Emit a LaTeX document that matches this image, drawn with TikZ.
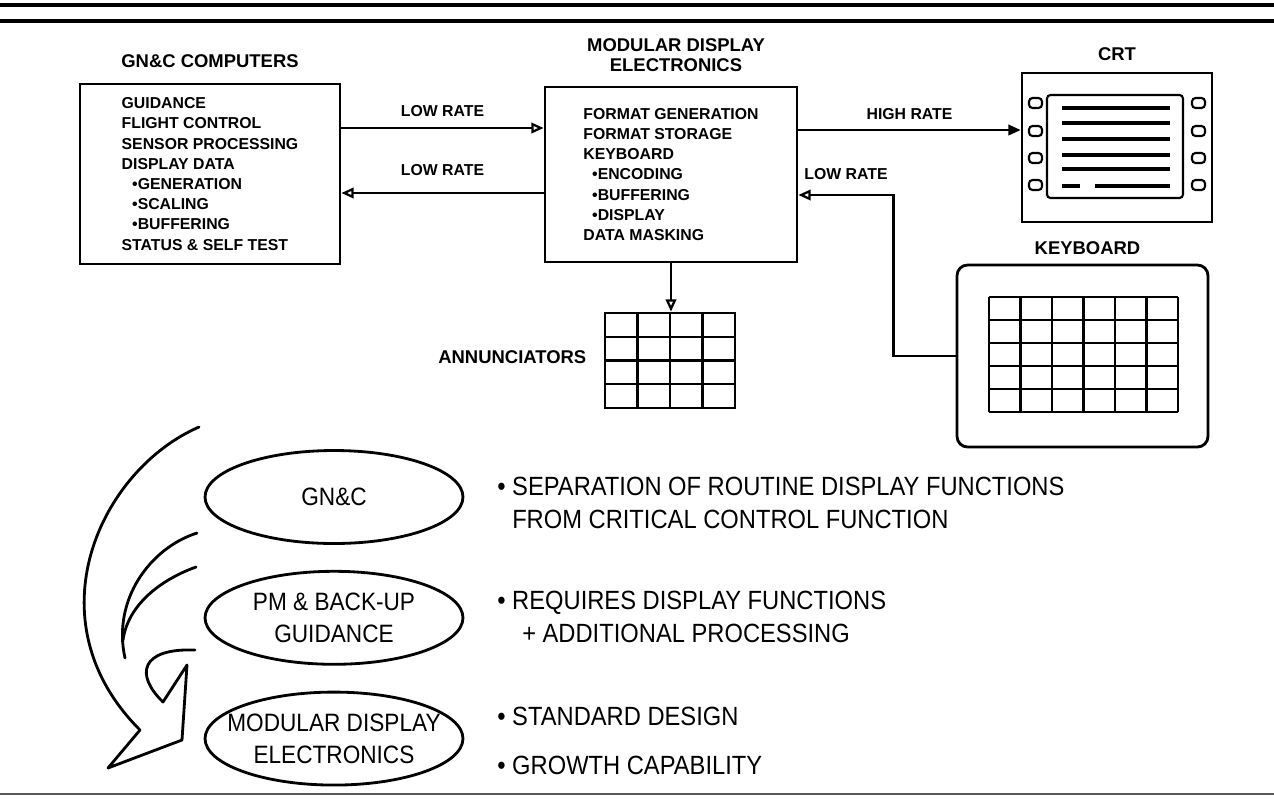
\documentclass[tikz,border=0pt]{standalone}
\usepackage{fontspec}
\setsansfont{Liberation Sans}
\newfontfamily\letterfont[FakeStretch=0.9]{Liberation Sans}
\usetikzlibrary{shapes.geometric, arrows.meta, positioning}

\begin{document}
\begin{tikzpicture}[
  x=0.02cm, y=-0.02cm,
  box/.style={draw, line width=1.6pt, align=left, inner sep=0pt,
    font=\sffamily\bfseries\fontsize{9}{11.5}\selectfont},
  headline/.style={align=center, inner sep=0pt,
    font=\sffamily\bfseries\fontsize{10.5}{11}\selectfont},
  ratelabel/.style={inner sep=0pt, font=\sffamily\bfseries\fontsize{9}{11}\selectfont},
  arrow/.style={-{Triangle[open, length=7pt, width=6pt]}, line width=1.3pt},
  fillarrow/.style={-{Triangle[length=7pt, width=6pt]}, line width=1.3pt},
  oval/.style={ellipse, draw, line width=1.6pt, inner ysep=0pt, inner xsep=-0.9cm,
    minimum width=5.16cm, minimum height=1.86cm, align=center,
    font=\letterfont\fontsize{14.3}{18}\selectfont},
  pointtext/.style={align=left, inner sep=0pt,
    font=\letterfont\fontsize{15}{18.8}\selectfont},
  hrule/.style={line width=2pt}
]
\useasboundingbox (0,0) rectangle (1274,802);
\draw[hrule] (0,5) -- (1274,5);
\draw[hrule] (0,21) -- (1274,21);
\draw[line width=1pt, black!65] (0,794) -- (1274,794);

% blocks
\node[box, minimum width=5.2cm, minimum height=3.6cm] (gnc) at (210,174)
  {GUIDANCE\\FLIGHT CONTROL\\SENSOR PROCESSING\\DISPLAY DATA\\
   \hspace*{6pt}•GENERATION\\\hspace*{6pt}•SCALING\\\hspace*{6pt}•BUFFERING\\
   STATUS \& SELF TEST};
\node[box, minimum width=5.04cm, minimum height=3.5cm] (mde) at (671,174.5)
  {FORMAT GENERATION\\FORMAT STORAGE\\KEYBOARD\\
   \hspace*{5pt}•ENCODING\\\hspace*{5pt}•BUFFERING\\\hspace*{5pt}•DISPLAY\\
   DATA MASKING};
\node[box, minimum width=3.8cm, minimum height=2.98cm] (crt) at (1117,147.5) {};
\node[box, rounded corners=6pt, minimum width=5.02cm, minimum height=3.64cm] (kbd) at (1082.5,356) {};
\node[box, minimum width=2.6cm, minimum height=1.9cm] (ann) at (670,360.5) {};

\node[headline, above=0.3cm of gnc] (gnctitle) {GN\&C COMPUTERS};
\node[headline, above=0.28cm of mde, xshift=0.1cm] (mdetitle) {MODULAR DISPLAY\\ELECTRONICS};
\node[headline, above=0.22cm of crt] (crttitle) {CRT};
\node[headline, above=0.18cm of kbd, xshift=0.1cm] (kbdtitle) {KEYBOARD};
\node[headline, left=0.34cm of ann, yshift=0.06cm] (anntitle) {ANNUNCIATORS};

% crt face
\draw[line width=1.2pt, rounded corners=2pt] (1047,95) rectangle (1183,198);
\foreach \y in {103,131,158,185} {
  \draw[line width=1.2pt, rounded corners=2pt] (1029,\y-5) rectangle (1042,\y+5);
  \draw[line width=1.2pt, rounded corners=2pt] (1192,\y-5) rectangle (1205,\y+5);
}
\foreach \y in {108,123,139,155,169} \draw[line width=2pt] (1062,\y) -- (1170,\y);
\draw[line width=2pt] (1062,186) -- (1080,186) (1095,186) -- (1170,186);

% key grids
\draw[line width=1.2pt, shift={(989,412)}, x=0.63cm, y=0.46cm, step=1] (0,0) grid (6,5);
\draw[line width=1.4pt, shift={(605,408)}, x=0.65cm, y=0.475cm, step=1] (0,0) grid (4,4);

% links
\coordinate (lo1) at ([yshift=0.92cm]gnc.east);
\coordinate (lo2) at ([yshift=-0.37cm]mde.west);
\coordinate (hi)  at ([yshift=0.89cm]mde.east);
\coordinate (lo3) at ([yshift=-0.41cm]mde.east);
\draw[arrow] (lo1) -- (lo1 -| mde.west) node[midway, ratelabel, above=6pt] {LOW RATE};
\draw[arrow] (lo2) -- (lo2 -| gnc.east) node[midway, ratelabel, above=9pt] {LOW RATE};
\draw[fillarrow] (hi) -- (hi -| crt.west) node[midway, ratelabel, above=5pt] {HIGH RATE};
\draw[arrow] (kbd.west) -- ++(-62,0) |- (lo3) node[pos=0.75, ratelabel, above=8pt] {LOW RATE};
\draw[arrow] (mde.south) -- (mde.south |- ann.north);

% hierarchy
\node[oval] (gncell) at (334,497) {GN\&C};
\node[oval, below=0.5cm of gncell] (pmell) {PM \& BACK-UP\\GUIDANCE};
\node[oval, below=0.5cm of pmell] (mdeell) {MODULAR DISPLAY\\ELECTRONICS};

\node[pointtext, anchor=west, yshift=-0.12cm] (sep) at (497,497)
  {•~SEPARATION OF ROUTINE DISPLAY FUNCTIONS\\\phantom{•~}FROM CRITICAL CONTROL FUNCTION};
\node[pointtext, anchor=west] (req) at (497,617)
  {•~REQUIRES DISPLAY FUNCTIONS\\\phantom{•~}\hspace{0.2cm}+ ADDITIONAL PROCESSING};
\node[pointtext, anchor=west] (std) at (497,741)
  {•~STANDARD DESIGN\\[9pt]•~GROWTH CAPABILITY};

\draw[line width=1.6pt, line join=round, line cap=round]
  (199,427) .. controls (100,470) and (30,620) .. (140,730)
  -- (108,768) -- (182,740) -- (187,665) -- (163,702)
  .. controls (135,675) and (140,648) .. (195,650);
\draw[line width=1.6pt, line cap=round] (197,533) .. controls (150,548) and (112,600) .. (125,658);
\draw[line width=1.6pt, line cap=round] (196,567) .. controls (160,580) and (128,605) .. (123,640);
\end{tikzpicture}
\end{document}
